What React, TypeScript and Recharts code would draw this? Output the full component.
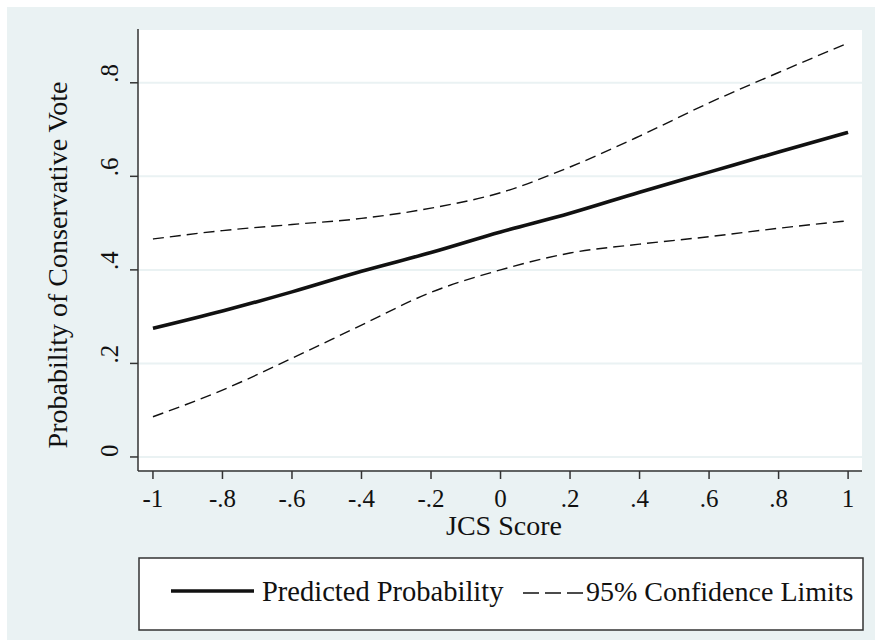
import { LineChart, Line, XAxis, YAxis, CartesianGrid } from "recharts";

// JCS score (x) and the three curves
const jcsScore = [-1, -0.8, -0.6, -0.4, -0.2, 0, 0.2, 0.4, 0.6, 0.8, 1];
const predicted = [0.275, 0.312, 0.353, 0.397, 0.437, 0.481, 0.521, 0.566, 0.609, 0.652, 0.694];
const upperLimit = [0.466, 0.484, 0.497, 0.51, 0.532, 0.565, 0.62, 0.686, 0.757, 0.822, 0.885];
const lowerLimit = [0.086, 0.143, 0.211, 0.282, 0.352, 0.4, 0.436, 0.455, 0.471, 0.489, 0.505];

const xTicks = [-1, -0.8, -0.6, -0.4, -0.2, 0, 0.2, 0.4, 0.6, 0.8, 1];
const xTickLabels = ["-1", "-.8", "-.6", "-.4", "-.2", "0", ".2", ".4", ".6", ".8", "1"];
const yTicks = [0, 0.2, 0.4, 0.6, 0.8];
const yTickLabels = ["0", ".2", ".4", ".6", ".8"];

const seriesNames = ["Predicted Probability", "95% Confidence Limits"];

const FONT = "'Liberation Serif', 'Times New Roman', 'DejaVu Serif', serif";
const INK = "#111";
const AXIS = "#333";
const REGION = "#eaf2f3";

const rows = jcsScore.map((x, i) => ({
  x,
  predicted: predicted[i],
  upper: upperLimit[i],
  lower: lowerLimit[i],
}));

function XTick(props: any) {
  const { x, y, payload } = props;
  const i = xTicks.indexOf(payload.value);
  return (
    <text x={x} y={y} dy={26} textAnchor="middle" style={{ fontFamily: FONT }} fontSize={25} fill={INK}>
      {i >= 0 ? xTickLabels[i] : payload.value}
    </text>
  );
}

function YTick(props: any) {
  const { x, y, payload } = props;
  const i = yTicks.indexOf(payload.value);
  const bx = x - 10;
  return (
    <text
      x={bx}
      y={y}
      transform={`rotate(-90 ${bx} ${y})`}
      textAnchor="start"
      style={{ fontFamily: FONT }}
      fontSize={25}
      fill={INK}
    >
      {i >= 0 ? yTickLabels[i] : payload.value}
    </text>
  );
}

export default function App() {
  return (
    <div style={{ position: "absolute", left: 0, top: 0, width: 875, height: 640, background: "#fff" }}>
      <div style={{ position: "absolute", left: 7, top: 7, width: 868, height: 633, background: REGION }} />
      <div style={{ position: "absolute", left: 0, top: 0 }}>
        <LineChart width={875} height={640} data={rows} margin={{ top: 29, right: 13, left: 78, bottom: 109 }}>
          <CartesianGrid vertical={false} stroke={REGION} strokeWidth={2} fill="#ffffff" fillOpacity={1} />
          <XAxis
            type="number"
            dataKey="x"
            domain={[-1.043, 1.04]}
            ticks={xTicks}
            interval={0}
            allowDataOverflow
            height={60}
            tickSize={8}
            axisLine={{ stroke: AXIS, strokeWidth: 1.5 }}
            tickLine={{ stroke: AXIS, strokeWidth: 1.5 }}
            tick={<XTick />}
            label={{
              content: (p: any) => {
                const vb = p.viewBox;
                return (
                  <text x={vb.x + vb.width / 2 + 4} y={vb.y + 64} textAnchor="middle" style={{ fontFamily: FONT }} fontSize={28} fill={INK}>
                    JCS Score
                  </text>
                );
              },
            }}
          />
          <YAxis
            type="number"
            domain={[-0.03, 0.915]}
            ticks={yTicks}
            interval={0}
            allowDataOverflow
            width={60}
            tickSize={8}
            axisLine={{ stroke: AXIS, strokeWidth: 1.5 }}
            tickLine={{ stroke: AXIS, strokeWidth: 1.5 }}
            tick={<YTick />}
            label={{
              content: (p: any) => {
                const vb = p.viewBox;
                const tx = vb.x - 11;
                const ty = vb.y + vb.height / 2 + 15;
                return (
                  <text
                    x={tx}
                    y={ty}
                    transform={`rotate(-90 ${tx} ${ty})`}
                    textAnchor="middle"
                    style={{ fontFamily: FONT }}
                    fontSize={28}
                    fill={INK}
                  >
                    Probability of Conservative Vote
                  </text>
                );
              },
            }}
          />
          <Line dataKey="upper" type="monotone" stroke={INK} strokeWidth={1.4} strokeDasharray="11 6" dot={false} isAnimationActive={false} />
          <Line dataKey="lower" type="monotone" stroke={INK} strokeWidth={1.4} strokeDasharray="11 6" dot={false} isAnimationActive={false} />
          <Line dataKey="predicted" type="monotone" stroke={INK} strokeWidth={3.6} dot={false} isAnimationActive={false} />
        </LineChart>
      </div>
      <svg width={875} height={640} style={{ position: "absolute", left: 0, top: 0, pointerEvents: "none" }}>
        <rect x={139} y={558} width={724} height={72} fill="#fff" stroke={AXIS} strokeWidth={1.5} />
        <line x1={171} x2={254} y1={591} y2={591} stroke={INK} strokeWidth={3.6} />
        <text x={262} y={601} style={{ fontFamily: FONT }} fontSize={28.5} fill={INK}>
          {seriesNames[0]}
        </text>
        <line x1={523} x2={583} y1={593} y2={593} stroke={INK} strokeWidth={1.5} strokeDasharray="16 6" />
        <text x={586} y={601} style={{ fontFamily: FONT }} fontSize={28} fill={INK}>
          {seriesNames[1]}
        </text>
      </svg>
    </div>
  );
}
